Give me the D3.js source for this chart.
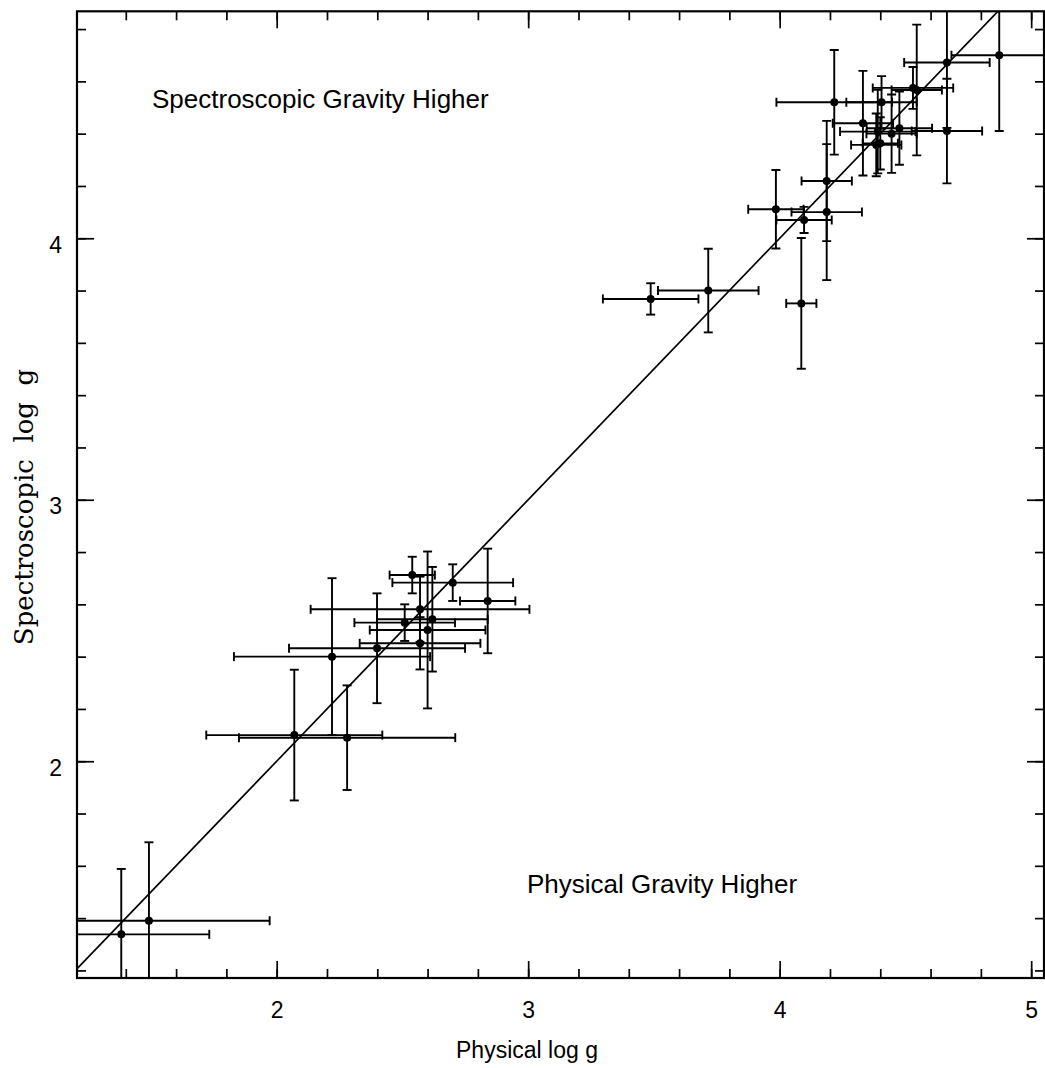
<!DOCTYPE html>
<html>
<head>
<meta charset="utf-8">
<script src="https://cdn.jsdelivr.net/npm/d3@7"></script>
<style>
  body { margin: 0; background: #fff; }
  text { font-family: "Liberation Sans", Arial, sans-serif; }
</style>
</head>
<body>
<script>
// physical log g, spectroscopic log g and their errors
var physLogg = [4.873, 4.665, 4.665, 4.545, 4.530, 4.476, 4.445, 4.405, 4.400, 4.390, 4.384, 4.331, 4.217,
                4.187, 4.187, 4.097, 3.985, 4.086, 3.716, 3.487,
                2.839, 2.700, 2.619, 2.600, 2.570, 2.570, 2.539, 2.509, 2.399, 2.220, 2.280, 2.070,
                1.492, 1.382];
var specLogg = [4.700, 4.672, 4.410, 4.567, 4.575, 4.421, 4.400, 4.520, 4.363, 4.408, 4.357, 4.440, 4.520,
                4.219, 4.100, 4.070, 4.111, 3.751, 3.800, 3.768,
                2.613, 2.683, 2.543, 2.502, 2.581, 2.451, 2.712, 2.530, 2.432, 2.400, 2.090, 2.100,
                1.390, 1.338];
var physErr = [0.19, 0.17, 0.14, 0.10, 0.16, 0.13, 0.10, 0.14, 0.07, 0.15, 0.10, 0.12, 0.23,
               0.10, 0.14, 0.11, 0.11, 0.06, 0.20, 0.19,
               0.11, 0.24, 0.22, 0.23, 0.435, 0.24, 0.09, 0.20, 0.35, 0.39, 0.43, 0.35,
               0.48, 0.35];
var specErr = [0.29, 0.25, 0.20, 0.25, 0.08, 0.14, 0.15, 0.10, 0.10, 0.16, 0.12, 0.20, 0.20,
               0.23, 0.26, 0.05, 0.15, 0.25, 0.16, 0.06,
               0.20, 0.07, 0.20, 0.30, 0.125, 0.10, 0.07, 0.07, 0.21, 0.30, 0.20, 0.25,
               0.30, 0.25];

var xMajor = [2, 3, 4, 5];
var yMajor = [2, 3, 4];
var xMinor = d3.range(1.4, 5.01, 0.2);
var yMinor = d3.range(1.2, 4.81, 0.2);

var width = 1045,
    height = 1068;
// note: "top" is a reserved window global, so use m* names
var mL = 77, mR = 1044, mT = 11.3, mB = 978;

var svg = d3.select("body").append("svg")
    .attr("width", width)
    .attr("height", height);

var x = d3.scaleLinear().domain([1.206, 5.051]).range([mL, mR]);
var y = d3.scaleLinear().domain([1.171, 4.868]).range([mB, mT]);

svg.append("defs").append("clipPath").attr("id", "plotclip")
  .append("rect")
    .attr("x", mL).attr("y", mT)
    .attr("width", mR - mL).attr("height", mB - mT);

// axes: ticks point inward on all four sides
function addAxis(axisFn, scale, vals, size, pos, labels) {
    var ax = axisFn(scale).tickValues(vals).tickSize(-size).tickSizeOuter(0)
        .tickFormat(labels ? d3.format("d") : "");
    var g = svg.append("g").attr("transform", pos).call(ax);
    g.select(".domain").remove();
    g.selectAll("line").attr("stroke", "#000").attr("stroke-width", 1.7);
    return g;
}
var gx = addAxis(d3.axisBottom, x, xMajor, 17, "translate(0," + mB + ")", true);
addAxis(d3.axisBottom, x, xMinor, 9, "translate(0," + mB + ")", false);
addAxis(d3.axisTop, x, xMajor, 17, "translate(0," + mT + ")", false);
addAxis(d3.axisTop, x, xMinor, 9, "translate(0," + mT + ")", false);
var gy = addAxis(d3.axisLeft, y, yMajor, 17, "translate(" + mL + ",0)", true);
addAxis(d3.axisLeft, y, yMinor, 9, "translate(" + mL + ",0)", false);
addAxis(d3.axisRight, y, yMajor, 17, "translate(" + mR + ",0)", false);
addAxis(d3.axisRight, y, yMinor, 9, "translate(" + mR + ",0)", false);

gx.selectAll("text")
    .attr("y", 24).attr("dy", "0.71em")
    .style("font-size", "23px").attr("fill", "#000");
gy.selectAll("text")
    .attr("x", -15).attr("dy", "0.6em")
    .style("font-size", "23px").attr("fill", "#000");

// frame
svg.append("rect")
    .attr("x", mL).attr("y", mT)
    .attr("width", mR - mL).attr("height", mB - mT)
    .attr("fill", "none").attr("stroke", "#000").attr("stroke-width", 2.2);

var plot = svg.append("g").attr("clip-path", "url(#plotclip)");

// one-to-one line
plot.append("line")
    .attr("x1", x(1.0)).attr("y1", y(1.0))
    .attr("x2", x(5.2)).attr("y2", y(5.2))
    .attr("stroke", "#000").attr("stroke-width", 1.7);

var pts = d3.range(physLogg.length);
var cap = 4.5;
var bars = plot.append("g").attr("stroke", "#000").attr("stroke-width", 1.9);

pts.forEach(function(i) {
    var cx = x(physLogg[i]), cy = y(specLogg[i]);
    var x0 = x(physLogg[i] - physErr[i]), x1 = x(physLogg[i] + physErr[i]);
    var y0 = y(specLogg[i] - specErr[i]), y1 = y(specLogg[i] + specErr[i]);
    bars.append("line").attr("x1", x0).attr("x2", x1).attr("y1", cy).attr("y2", cy);
    bars.append("line").attr("x1", x0).attr("x2", x0).attr("y1", cy - cap).attr("y2", cy + cap);
    bars.append("line").attr("x1", x1).attr("x2", x1).attr("y1", cy - cap).attr("y2", cy + cap);
    bars.append("line").attr("x1", cx).attr("x2", cx).attr("y1", y0).attr("y2", y1);
    bars.append("line").attr("x1", cx - cap).attr("x2", cx + cap).attr("y1", y0).attr("y2", y0);
    bars.append("line").attr("x1", cx - cap).attr("x2", cx + cap).attr("y1", y1).attr("y2", y1);
});

plot.selectAll("circle.pt")
    .data(pts)
  .enter().append("circle")
    .attr("class", "pt")
    .attr("cx", function(i) { return x(physLogg[i]); })
    .attr("cy", function(i) { return y(specLogg[i]); })
    .attr("r", 4)
    .attr("fill", "#000");

// annotations
svg.append("text")
    .attr("x", 152).attr("y", 108)
    .style("font-size", "26px")
    .text("Spectroscopic Gravity Higher");
svg.append("text")
    .attr("x", 527).attr("y", 893)
    .style("font-size", "26px")
    .text("Physical Gravity Higher");

// axis titles
svg.append("text")
    .attr("x", 527).attr("y", 1058)
    .attr("text-anchor", "middle")
    .style("font-size", "23px")
    .text("Physical log g");
svg.append("text")
    .attr("transform", "translate(33,507) rotate(-90)")
    .attr("text-anchor", "middle")
    .style("font-family", "'DejaVu Serif', serif")
    .style("font-size", "26px")
    .style("white-space", "pre")
    .text("Spectroscopic  log  g");
</script>
</body>
</html>
